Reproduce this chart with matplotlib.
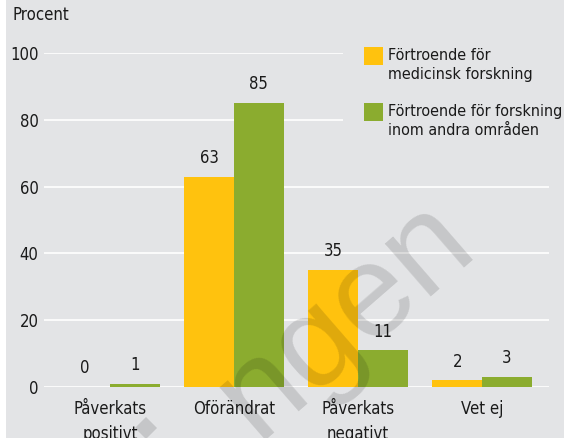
import numpy as np
import matplotlib
matplotlib.use("Agg")
import matplotlib.pyplot as plt
from matplotlib.patches import Rectangle
from matplotlib.lines import Line2D

# Data
categories = ["Påverkats\npositivt", "Oförändrat", "Påverkats\nnegativt", "Vet ej"]
medicinsk = [0, 63, 35, 2]
andra = [1, 85, 11, 3]
series_labels = ["Förtroende för\nmedicinsk forskning",
                 "Förtroende för forskning\ninom andra områden"]
yticks = [0, 20, 40, 60, 80, 100]

yellow = "#FFC20E"
green = "#8BAC2F"
bg = "#E3E4E6"
ink = "#1A1A1A"

plt.rcParams['font.family'] = ['DejaVu Sans']
plt.rcParams['font.stretch'] = 'condensed'

W, H = 564, 438
fig = plt.figure(figsize=(W / 100, H / 100), dpi=100)
fig.patch.set_facecolor("white")


def fx(px):
    return px / W


def fy(py):
    return 1 - py / H


# grey panel (thin white strip on the left)
fig.patches.append(Rectangle((fx(6), 0), 1, 1, transform=fig.transFigure,
                             facecolor=bg, edgecolor="none", zorder=-5))

ax = fig.add_axes([fx(44), fy(387), (549 - 44) / W, (387 - 53) / H])
ax.set_facecolor("none")

x = np.arange(len(categories))
w = 0.40
b1 = ax.bar(x - w / 2, medicinsk, w, color=yellow, zorder=3)
b2 = ax.bar(x + w / 2, andra, w, color=green, zorder=3)

for bars, vals in ((b1, medicinsk), (b2, andra)):
    for rect, v in zip(bars, vals):
        ax.annotate(str(v), (rect.get_x() + rect.get_width() / 2, v),
                    xytext=(0, 7), textcoords="offset points",
                    ha="center", va="bottom", fontsize=12, color=ink)

ax.set_xlim(-0.532, 3.54)
ax.set_ylim(0, 100)
ax.set_yticks(yticks)
ax.set_xticks(x)
ax.set_xticklabels(categories, linespacing=1.55)
ax.tick_params(axis="both", length=0, labelsize=12, colors=ink)
ax.tick_params(axis="y", pad=4)
ax.tick_params(axis="x", pad=9)
ax.grid(axis="y", color="white", linewidth=1.2, zorder=1)
for s in ax.spines.values():
    s.set_visible(False)

fig.text(fx(13), fy(6), "Procent", ha="left", va="top",
         fontsize=12, color=ink)

# legend: grey box hiding the gridlines, square aligned with first text line
fig.patches.append(Rectangle((fx(343), fy(150)), 1, (150 - 30) / H,
                             transform=fig.transFigure, facecolor=bg,
                             edgecolor="none", zorder=2))
for i, (lab, col) in enumerate(zip(series_labels, [yellow, green])):
    top = 47 + i * 56
    fig.patches.append(Rectangle((fx(364), fy(top + 18)), 19 / W, 18 / H,
                                 transform=fig.transFigure, facecolor=col,
                                 edgecolor="none", zorder=3))
    fig.text(fx(388), fy(top + 1), lab, ha="left", va="top", fontsize=11.5,
             color=ink, linespacing=1.3, zorder=3)

# watermark
fig.text(fx(345), fy(318), "ngen", rotation=41, rotation_mode="anchor",
         ha="center", va="center", fontsize=95, color="black", alpha=0.13,
         family="Liberation Sans", zorder=10)
fig.add_artist(Line2D([fx(146)], [fy(428)], transform=fig.transFigure,
                      marker="D", markersize=11, color="black", alpha=0.13,
                      markeredgewidth=0, linestyle="none", zorder=10))

fig.savefig("out.png", dpi=100)
